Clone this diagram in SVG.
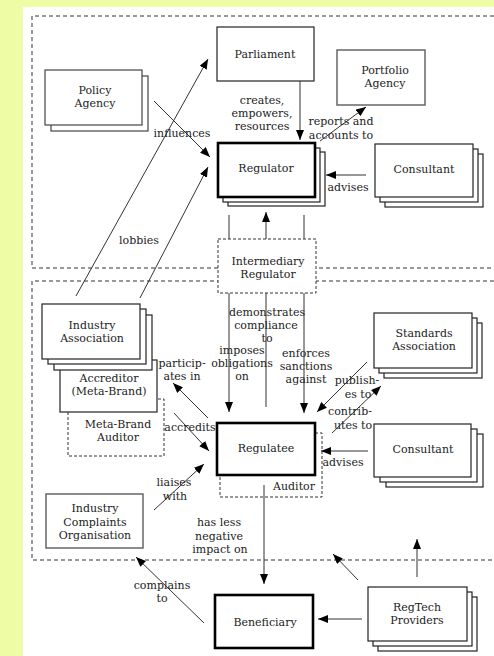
<svg xmlns="http://www.w3.org/2000/svg" width="494" height="656" viewBox="0 0 494 656" font-family="'DejaVu Serif', serif">
<style>
text{font-family:'DejaVu Serif','Liberation Serif',serif;font-size:11px;fill:#222;text-anchor:middle}
.b{fill:#fff;stroke:#222;stroke-width:1.2}
.g{fill:#fff;stroke:#666;stroke-width:1.5}
.t{fill:#fff;stroke:#000;stroke-width:2.6}
.d{fill:#fff;stroke:#333;stroke-width:1;stroke-dasharray:3,2}
.dn{fill:none;stroke:#333;stroke-width:1;stroke-dasharray:3,2}
.reg{fill:none;stroke:#333;stroke-width:1;stroke-dasharray:4,3}
.c{fill:none;stroke:#333;stroke-width:1;marker-end:url(#ah)}
</style>
<defs>
<marker id="ah" markerWidth="10" markerHeight="8" refX="10" refY="4" orient="auto" markerUnits="userSpaceOnUse"><path d="M0,0 L10,4 L0,8 z" fill="#000"/></marker>
</defs>
<rect x="0" y="0" width="494" height="656" fill="#eefca6"/>
<rect x="23" y="7" width="471" height="649" fill="#fff"/>
<g id="regions">
<path class="reg" d="M494,16 H32 V268 H494"/>
<path class="reg" d="M494,281 H32 V560 H494"/>
</g>
<g id="connectors">
<path class="c" d="M300,81 L300,140"/>
<path class="c" d="M320,141 L366,107"/>
<path class="c" d="M366,175 L326,175"/>
<path class="c" d="M154,101 L210,157"/>
<path class="c" d="M76,296 L208,59"/>
<path class="c" d="M140,298 L208,167"/>
<path class="c" d="M229,215 L229,412"/>
<path class="c" d="M304,215 L304,413"/>
<path class="c" d="M266,407 L266,212"/>
<path class="c" d="M208,418 L173,383"/>
<path class="c" d="M174,413 L209,451"/>
<path class="c" d="M154,510 L204,464"/>
<path class="c" d="M264,485 L264,584"/>
<path class="c" d="M204,623 L136,557"/>
<path class="c" d="M362,619 L318,619"/>
<path class="c" d="M417,577 L417,539"/>
<path class="c" d="M358,580 L333,554"/>
<path class="c" d="M368,451 L321,451"/>
<path class="c" d="M367,362 L317,412"/>
<path class="c" d="M332,433 L381,386"/>
</g>
<g id="parliament"><rect class="b" x="217" y="27" width="97" height="54"/><text x="265" y="58">Parliament</text></g>
<g id="portfolio-agency"><rect class="g" x="337" y="50" width="88" height="55"/><text x="385" y="74">Portfolio</text><text x="385" y="87">Agency</text></g>
<g id="policy-agency"><rect class="b" x="51" y="76" width="97" height="55" style="stroke:#444"/><rect class="b" x="45" y="70" width="97" height="55" style="stroke:#444"/><text x="95" y="94">Policy</text><text x="95" y="107">Agency</text></g>
<g id="regulator"><rect class="b" x="228" y="152" width="97" height="54"/><rect class="b" x="223" y="148" width="97" height="54"/><rect class="t" x="218" y="143" width="97" height="54"/><text x="266" y="172">Regulator</text></g>
<g id="consultant-1"><rect class="b" x="385" y="154" width="98" height="53"/><rect class="b" x="380" y="149" width="98" height="53"/><rect class="b" x="375" y="144" width="98" height="53"/><text x="424" y="173">Consultant</text></g>
<g id="intermediary-regulator"><rect class="d" x="218" y="239" width="98" height="54"/><text x="268" y="265">Intermediary</text><text x="268" y="278">Regulator</text></g>
<g id="meta-brand-auditor"><rect class="d" x="68" y="399" width="96" height="57"/><text x="118" y="428">Meta-Brand</text><text x="118" y="441">Auditor</text></g>
<g id="accreditor"><rect class="b" x="60" y="360" width="97" height="52"/><text x="109" y="382">Accreditor</text><text x="109" y="395">(Meta-Brand)</text></g>
<g id="industry-association"><rect class="b" x="54" y="315" width="98" height="55"/><rect class="b" x="48" y="309" width="98" height="55"/><rect class="b" x="42" y="304" width="98" height="55"/><text x="92" y="329">Industry</text><text x="92" y="342">Association</text></g>
<g id="standards-association"><rect class="b" x="384" y="323" width="98" height="55"/><rect class="b" x="379" y="318" width="98" height="55"/><rect class="b" x="374" y="313" width="98" height="55"/><text x="424" y="337">Standards</text><text x="424" y="350">Association</text></g>
<g id="consultant-2"><rect class="b" x="386" y="434" width="97" height="53"/><rect class="b" x="380" y="429" width="97" height="53"/><rect class="b" x="374" y="424" width="97" height="53"/><text x="423" y="453">Consultant</text></g>
<g id="regulatee"><rect class="dn" x="220" y="433" width="102" height="64"/><rect class="t" x="217" y="423" width="98" height="52"/><text x="266" y="452">Regulatee</text><text x="294" y="490">Auditor</text></g>
<g id="industry-complaints"><rect class="g" x="46" y="494" width="97" height="54"/><text x="95" y="512">Industry</text><text x="95" y="526">Complaints</text><text x="95" y="539">Organisation</text></g>
<g id="beneficiary"><rect class="t" x="215" y="595" width="98" height="53"/><text x="265" y="626">Beneficiary</text></g>
<g id="regtech"><rect class="b" x="378" y="597" width="99" height="54"/><rect class="b" x="373" y="592" width="99" height="54"/><rect class="b" x="368" y="587" width="99" height="54"/><text x="417" y="611">RegTech</text><text x="417" y="624">Providers</text></g>
<g id="labels">
<text x="262" y="104">creates,</text><text x="262" y="117">empowers,</text><text x="262" y="130">resources</text>
<text x="341" y="125">reports and</text><text x="341" y="139">accounts to</text>
<text x="348" y="191">advises</text>
<text x="182" y="137">influences</text>
<text x="139" y="244">lobbies</text>
<text x="267" y="316">demonstrates</text><text x="266" y="329">compliance</text><text x="267" y="342">to</text>
<text x="242" y="354">imposes</text><text x="242" y="367">obligations</text><text x="242" y="380">on</text>
<text x="306" y="357">enforces</text><text x="306" y="370">sanctions</text><text x="306" y="383">against</text>
<text x="182" y="367">particip-</text><text x="182" y="380">ates in</text>
<text x="190" y="431">accredits</text>
<text x="357" y="384">publish-</text><text x="358" y="398">es to</text>
<text x="350" y="415">contrib-</text><text x="353" y="429">utes to</text>
<text x="343" y="466">advises</text>
<text x="174" y="486">liaises</text><text x="175" y="500">with</text>
<text x="219" y="526">has less</text><text x="219" y="540">negative</text><text x="220" y="553">impact on</text>
<text x="162" y="589">complains</text><text x="162" y="602">to</text>
</g>
</svg>
